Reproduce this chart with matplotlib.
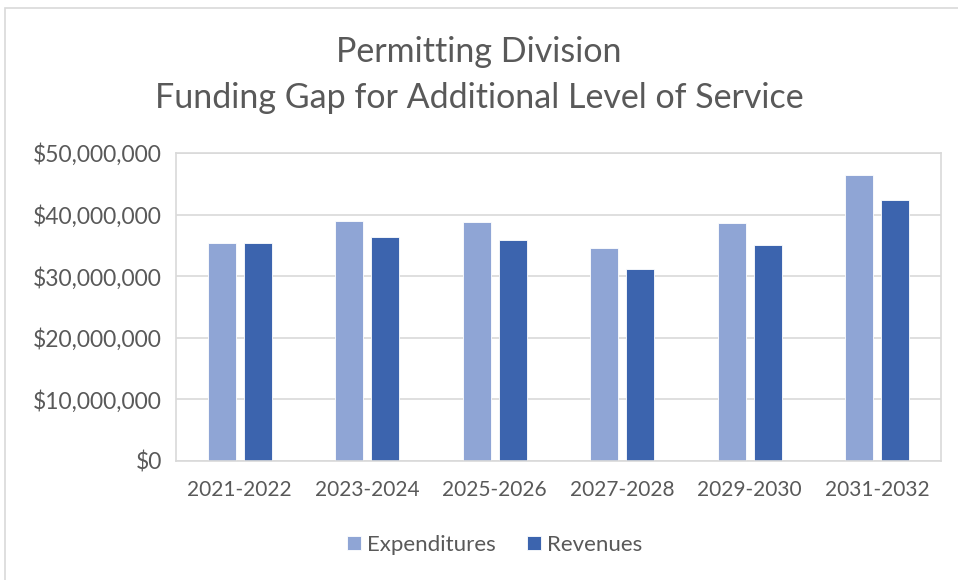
import matplotlib
matplotlib.use('Agg')
from matplotlib import pyplot as plt
from matplotlib.patches import Rectangle
from matplotlib.ticker import FuncFormatter
import numpy as np

periods = ['2021-2022', '2023-2024', '2025-2026', '2027-2028', '2029-2030', '2031-2032']
expenditures = [35.4e6, 39.0e6, 38.8e6, 34.5e6, 38.6e6, 46.5e6]
revenues = [35.4e6, 36.4e6, 35.9e6, 31.1e6, 35.0e6, 42.4e6]

text_col = '#595959'
plt.rcParams['font.family'] = ['Lato', 'DejaVu Sans']

fig = plt.figure(figsize=(9.58, 5.8), dpi=100)
# outer chart frame
fig.patches.append(Rectangle((5/958, -0.01), 960/958, 1 - 8/580 + 0.01, transform=fig.transFigure,
                             fill=False, edgecolor='#D9D9D9', linewidth=1.2))

ax = fig.add_axes([176/958, 1 - 461/580, 765/958, 308/580])
x = np.arange(len(periods))
w = 0.22
ax.bar(x - 0.14, expenditures, w, color='#8FA5D5', edgecolor='white', linewidth=0.6, label='Expenditures')
ax.bar(x + 0.14, revenues, w, color='#3C64AE', edgecolor='white', linewidth=0.6, label='Revenues')

ax.set_xlim(-0.5, len(periods) - 0.5)
ax.set_ylim(0, 50e6)
ax.set_yticks(np.arange(0, 50e6 + 1, 10e6))
ax.yaxis.set_major_formatter(FuncFormatter(lambda v, p: '${:,.0f}'.format(v)))
ax.set_xticks(x)
ax.set_xticklabels(periods)
ax.grid(axis='y', color='#D9D9D9', linewidth=1.2)
ax.set_axisbelow(True)
for s in ax.spines.values():
    s.set_color('#D9D9D9')
    s.set_linewidth(1.2)
ax.tick_params(axis='both', length=0, colors=text_col)
ax.tick_params(axis='x', pad=14, labelsize=15)
ax.tick_params(axis='y', pad=10, labelsize=16.5)

fig.text(0.5, 1 - 52/580, 'Permitting Division', ha='center', va='center', fontsize=24.5, color=text_col)
fig.text(0.5, 1 - 98/580, 'Funding Gap for Additional Level of Service', ha='center', va='center',
         fontsize=24.5, color=text_col)

fig.legend(loc='center', bbox_to_anchor=(495/958, 1 - 545/580), ncol=2, frameon=False,
           fontsize=16, labelcolor=text_col, handlelength=0.6, handleheight=0.6,
           handletextpad=0.3, columnspacing=1.4)

fig.savefig('out.png', dpi=100)
